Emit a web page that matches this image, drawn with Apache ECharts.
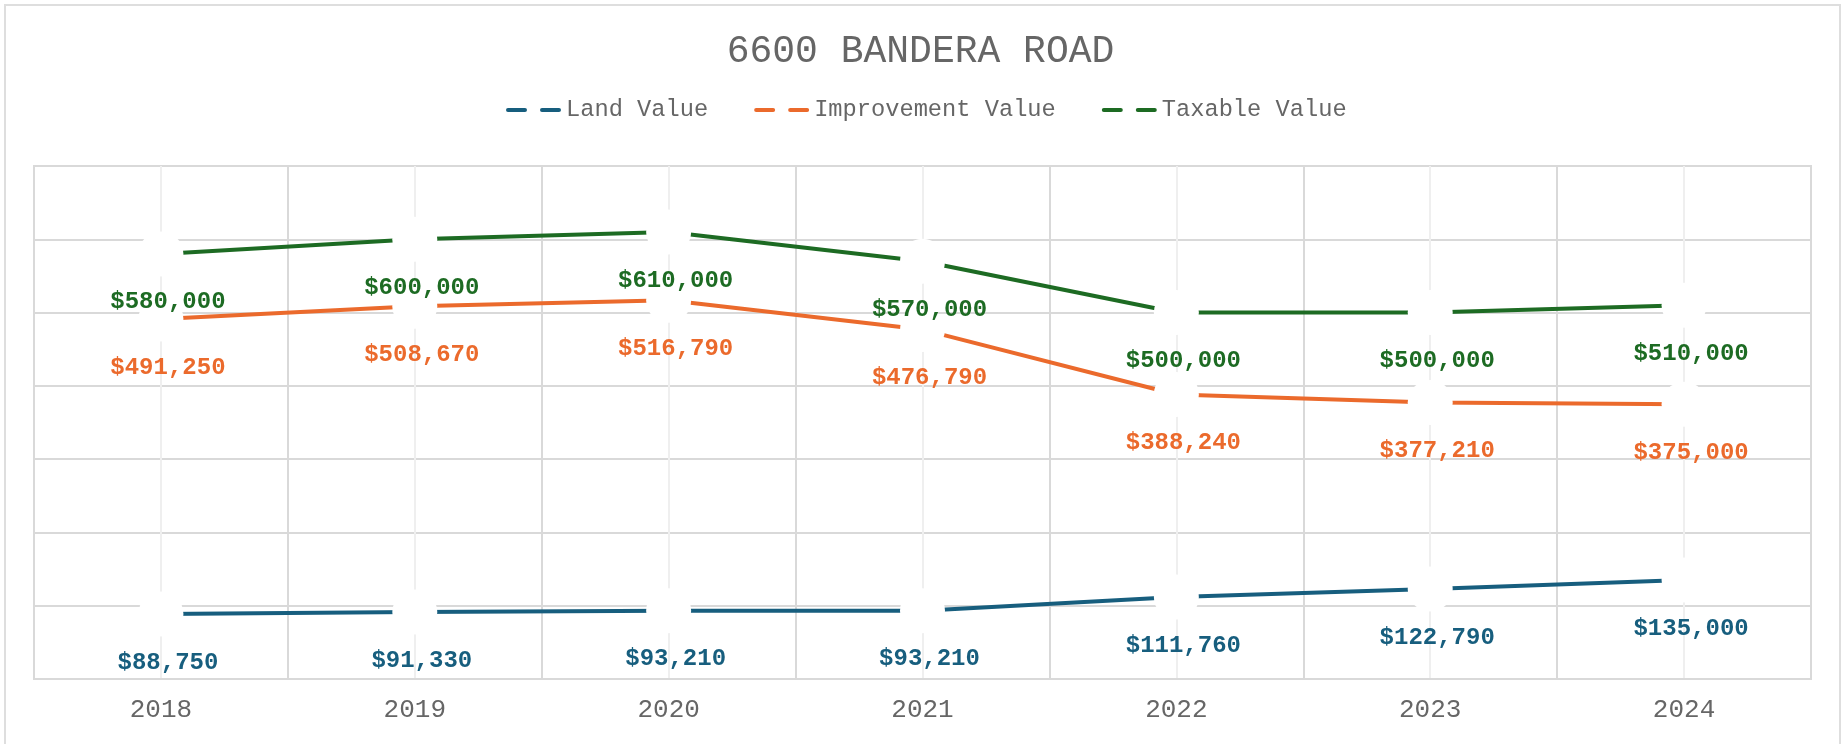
<!DOCTYPE html>
<html>
<head>
<meta charset="utf-8">
<title>6600 BANDERA ROAD</title>
<style>
  html, body { margin: 0; padding: 0; background: #fff; }
  .line { position: absolute; left: 0; top: 0; width: 1841px; height: 744px; }
  .frame { position: absolute; left: 4px; top: 4px; width: 1833px; height: 780px;
           border: 2px solid #dedede; pointer-events: none; }
</style>
<script src="https://cdn.jsdelivr.net/npm/echarts@6/dist/echarts.min.js"></script>
</head>
<body>
<div class="line"></div>
<div class="frame"></div>
<script>
// 年份 + 三条线的数据
var years = ['2018', '2019', '2020', '2021', '2022', '2023', '2024'];
var landValue = [88750, 91330, 93210, 93210, 111760, 122790, 135000];
var improvementValue = [491250, 508670, 516790, 476790, 388240, 377210, 375000];
var taxableValue = [580000, 600000, 610000, 570000, 500000, 500000, 510000];
var seriesNames = ['Land Value', 'Improvement Value', 'Taxable Value'];
var seriesColors = ['#175e7e', '#eb6a2c', '#1d6b23'];

;(function() {
  var myChart = echarts.init(document.querySelector('.line'));
  var font = 'Liberation Mono, Courier New, monospace';
  var dash = 'path://M2,0h17a2,2 0 0 1 0,4h-17a2,2 0 0 1 0,-4z M36,0h17a2,2 0 0 1 0,4h-17a2,2 0 0 1 0,-4z';

  function money(p) {
    return '$' + p.value.toLocaleString('en-US');
  }

  // 一条线的配置，白色大圆点盖住网格线
  function makeSeries(name, data, color) {
    return {
      name: name,
      type: 'line',
      data: data,
      symbol: 'circle',
      symbolSize: 45,
      showAllSymbol: true,
      itemStyle: { color: '#fff', borderWidth: 0 },
      lineStyle: { color: color, width: 4 },
      label: {
        show: true,
        position: 'bottom',
        distance: 14,
        offset: [7, 0],
        formatter: money,
        fontFamily: font,
        fontWeight: 'bold',
        fontSize: 24,
        color: color
      },
      emphasis: { disabled: true },
      animation: false
    };
  }

  var option = {
    title: {
      text: '6600 BANDERA ROAD',
      left: 'center',
      top: 28,
      textStyle: { fontFamily: font, fontWeight: 'normal', fontSize: 38, color: '#666' }
    },
    legend: {
      left: 501,
      top: 93,
      itemWidth: 55,
      itemHeight: 4,
      itemGap: 46,
      textStyle: { fontFamily: font, fontSize: 23.7, color: '#666' },
      data: seriesNames.map(function(n, i) {
        return { name: n, icon: dash, itemStyle: { color: seriesColors[i] } };
      })
    },
    grid: {
      left: 34,
      right: 30,
      top: 166,
      bottom: 65,
      show: true,
      borderColor: '#d9d9d9',
      borderWidth: 2
    },
    xAxis: [
      {
        type: 'category',
        data: years,
        boundaryGap: true,
        axisLine: { lineStyle: { color: '#d9d9d9', width: 2 } },
        axisTick: { show: false },
        axisLabel: { fontFamily: font, fontSize: 26, color: '#666', margin: 18 },
        splitLine: { show: true, lineStyle: { color: '#d9d9d9', width: 2 } }
      },
      {
        // 隐藏的数值轴，只用来画每个年份中间的浅色竖线
        type: 'value',
        min: -0.5,
        max: 6.5,
        interval: 0.5,
        position: 'top',
        axisLine: { show: false },
        axisTick: { show: false },
        axisLabel: { show: false },
        splitLine: { show: true, lineStyle: { color: ['#d9d9d9', '#efefef'], width: 2 } }
      }
    ],
    yAxis: {
      type: 'value',
      min: 0,
      max: 700000,
      interval: 100000,
      axisLine: { show: false },
      axisTick: { show: false },
      axisLabel: { show: false },
      splitLine: { lineStyle: { color: '#d9d9d9', width: 2 } }
    },
    series: [
      makeSeries(seriesNames[0], landValue, seriesColors[0]),
      makeSeries(seriesNames[1], improvementValue, seriesColors[1]),
      makeSeries(seriesNames[2], taxableValue, seriesColors[2])
    ]
  };

  myChart.setOption(option);
  window.addEventListener('resize', function() {
    myChart.resize();
  });
})();
</script>
</body>
</html>
